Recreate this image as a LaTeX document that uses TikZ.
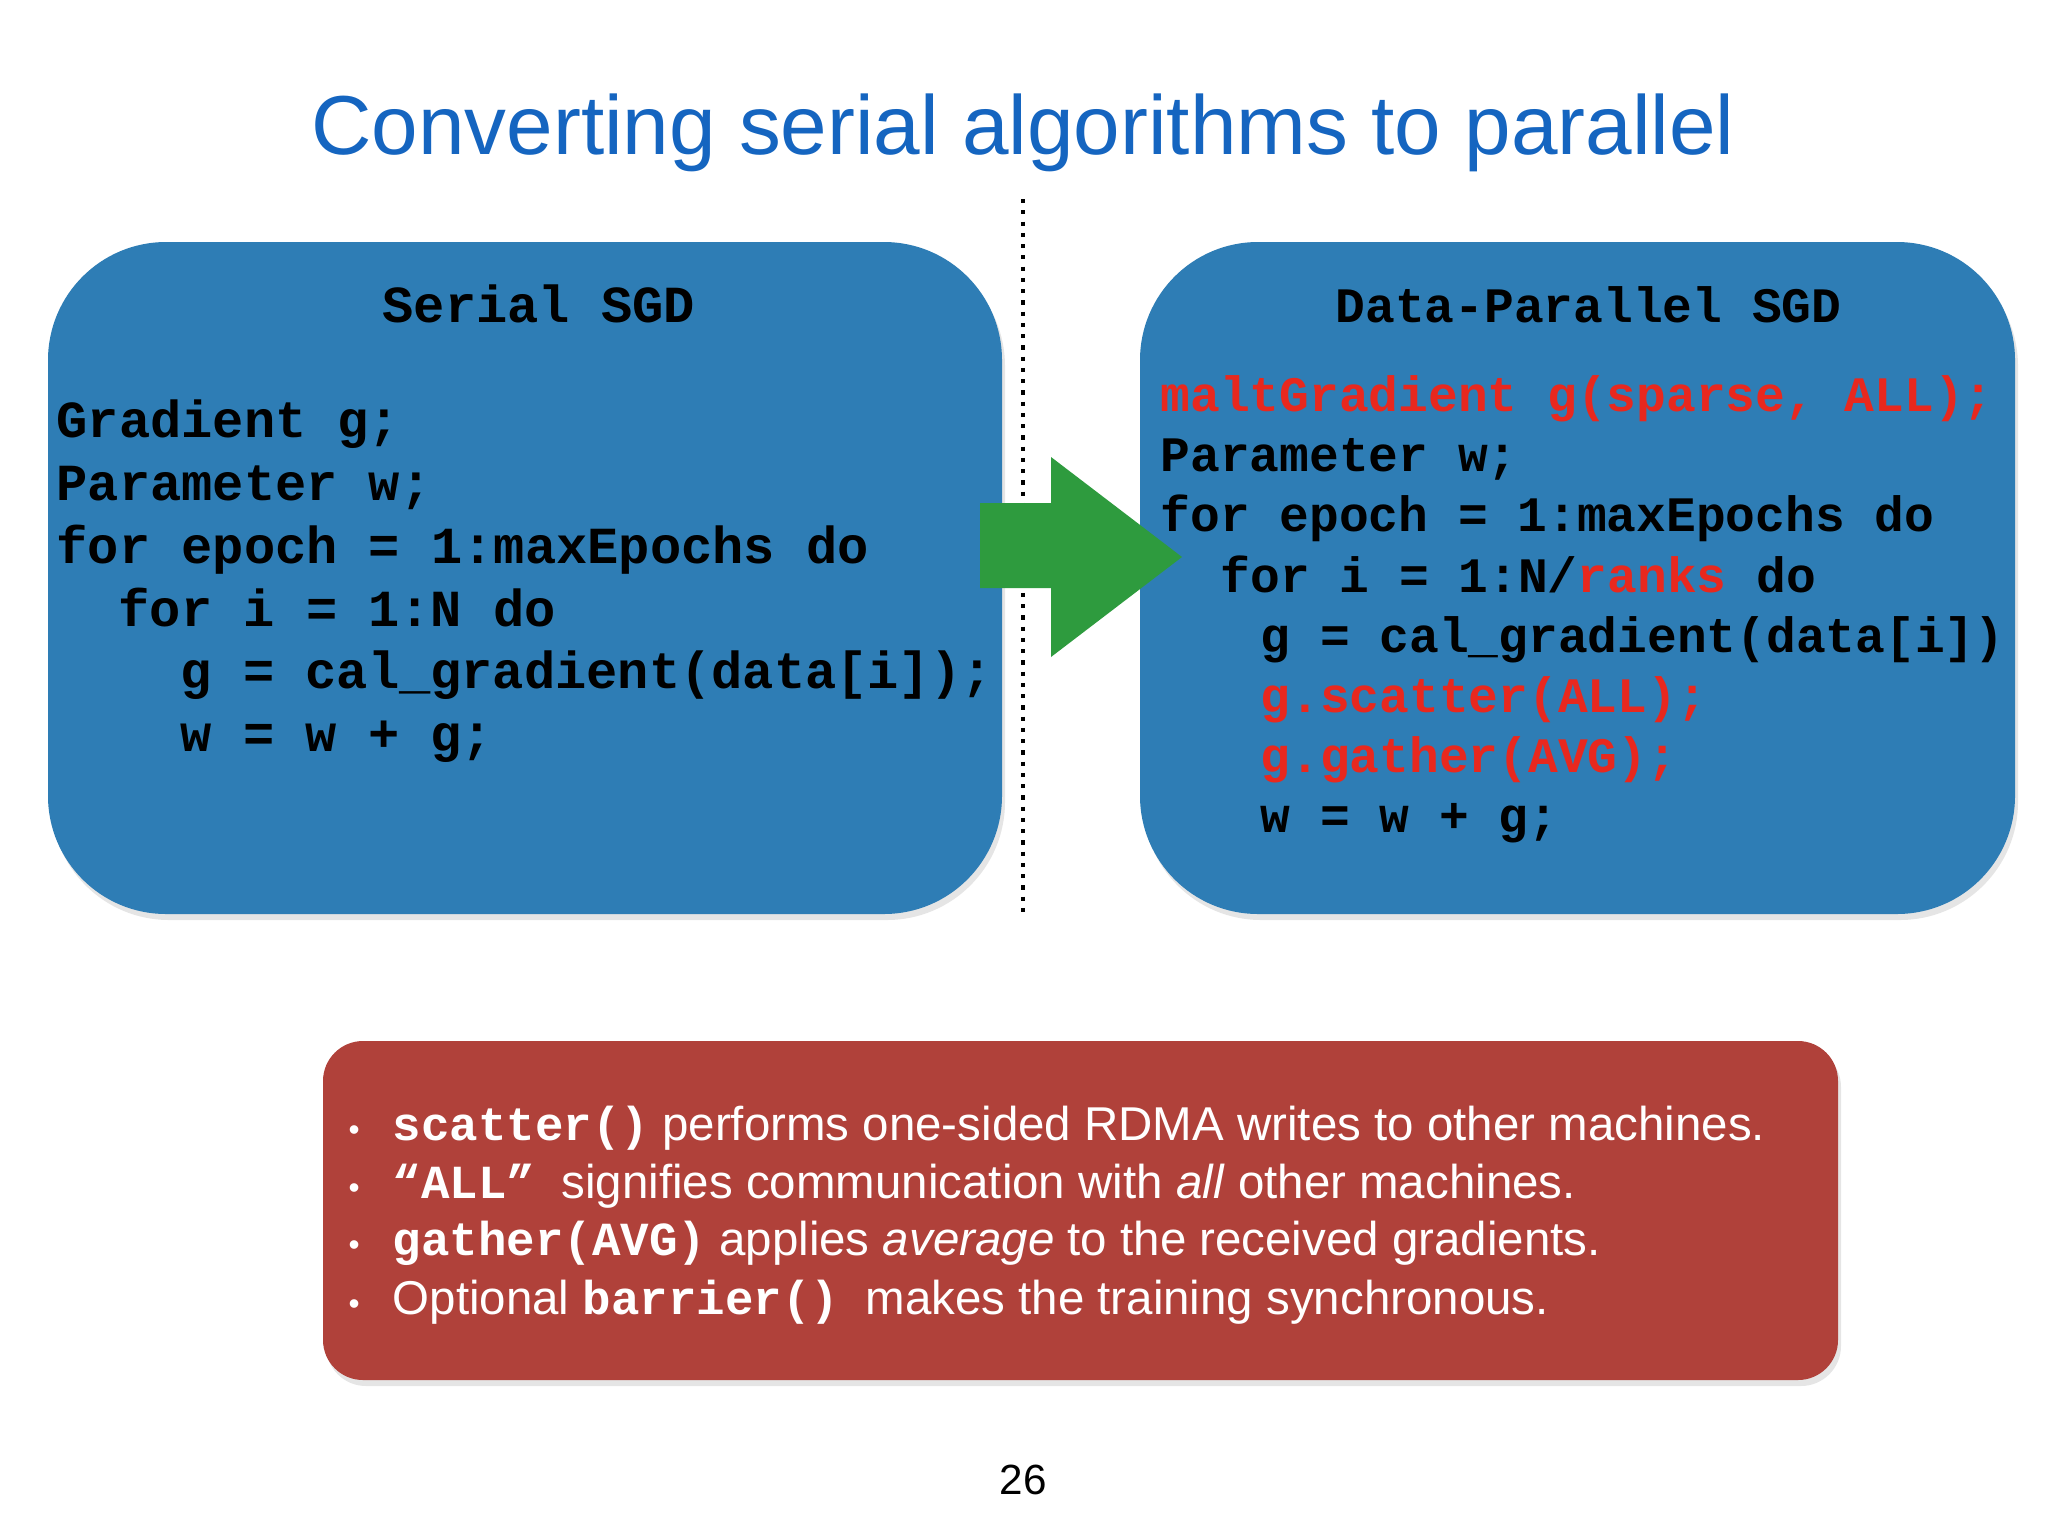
\documentclass[tikz,border=0pt]{standalone}
\usepackage{fontspec}
\setmainfont{Liberation Sans}
\setmonofont{Liberation Mono}
\definecolor{bluebox}{HTML}{2E7DB5}
\definecolor{redbox}{HTML}{B0413A}
\definecolor{codered}{HTML}{E8281E}
\definecolor{titleblue}{HTML}{1565C0}
\definecolor{arrowgreen}{HTML}{2E9B3E}
\usetikzlibrary{shadows}
\tikzset{
 code/.style={anchor=base west,inner sep=0pt,font=\ttfamily\bfseries\fontsize{14.8}{16}\selectfont},
 rcode/.style={anchor=base west,inner sep=0pt,font=\ttfamily\bfseries\fontsize{14.1}{16}\selectfont},
 bul/.style={anchor=base west,inner sep=0pt,text=white,font=\fontsize{13.5}{16}\selectfont},
 panel/.style={fill=bluebox,rounded corners=1.18cm,drop shadow={opacity=0.2,shadow xshift=0.03cm,shadow yshift=-0.06cm}}
}
\newcommand{\rd}[1]{\textcolor{codered}{#1}}
\newcommand{\bt}[1]{{\ttfamily\bfseries #1}}
\begin{document}
\begin{tikzpicture}[x=0.01cm,y=-0.01cm]
\useasboundingbox (0,0) rectangle (2048,1536);
\fill[white] (0,0) rectangle (2048,1536);
\node[font=\fontsize{23.8}{28}\selectfont,text=titleblue] (title) at (1023,133) {Converting serial algorithms to parallel};
\draw[dotted,line width=1.2pt] (1023,199) coordinate (d1) -- (1023,918) coordinate (d2);
\fill[panel] (48,242) rectangle (1002,914);
\fill[panel] (1140,242) rectangle (2015,914);
\fill[arrowgreen] (980,503) -- (1051,503) -- (1051,457) -- (1182,557) -- (1051,657) -- (1051,588) -- (980,588) -- cycle;
\fill[redbox,rounded corners=0.4cm,drop shadow={opacity=0.2,shadow xshift=0.03cm,shadow yshift=-0.06cm}] (323,1041) rectangle (1838,1380);
% left code
\node[code] (st) at (382,322) {Serial SGD};
\node[code] (l1) at (56,437) {Gradient g;};
\node[code] (l2) at (56,500) {Parameter w;};
\node[code] (l3) at (56,563) {for epoch = 1:maxEpochs do};
\node[code] (l4) at (118,626) {for i = 1:N do};
\node[code] (l5) at (180,688) {g = cal\_gradient(data[i]);};
\node[code] (l6) at (180,751) {w = w + g;};
% right code
\node[rcode] (rt) at (1335,322) {Data-Parallel SGD};
\node[rcode] (r1) at (1160,411) {\rd{maltGradient g(sparse, ALL);}};
\node[rcode] (r2) at (1160,471) {Parameter w;};
\node[rcode] (r3) at (1160,531) {for epoch = 1:maxEpochs do};
\node[rcode] (r4) at (1220,592) {for i = 1:N/\rd{ranks} do};
\node[rcode] (r5) at (1260,652) {g = cal\_gradient(data[i])};
\node[rcode] (r6) at (1260,712) {\rd{g.scatter(ALL);}};
\node[rcode] (r7) at (1260,772) {\rd{g.gather(AVG);}};
\node[rcode] (r8) at (1260,832) {w = w + g;};
% bullets
\foreach \y in {1140,1198,1255,1314} \node[bul,font=\fontsize{9}{10}\selectfont] at (348,\y) {•};
\node[bul] (b1) at (392,1140) {\bt{scatter()} performs one-sided RDMA writes to other machines.};
\node[bul] (b2) at (392,1198) {\bt{“ALL”} \ signifies communication with \textit{all} other machines.};
\node[bul] (b3) at (392,1255) {\bt{gather(AVG)} applies \textit{average} to the received gradients.};
\node[bul] (b4) at (392,1314) {Optional \bt{barrier()} \ makes the training synchronous.};
\node[font=\fontsize{12}{14}\selectfont] (pg) at (1023,1480) {26};
\end{tikzpicture}
\end{document}
